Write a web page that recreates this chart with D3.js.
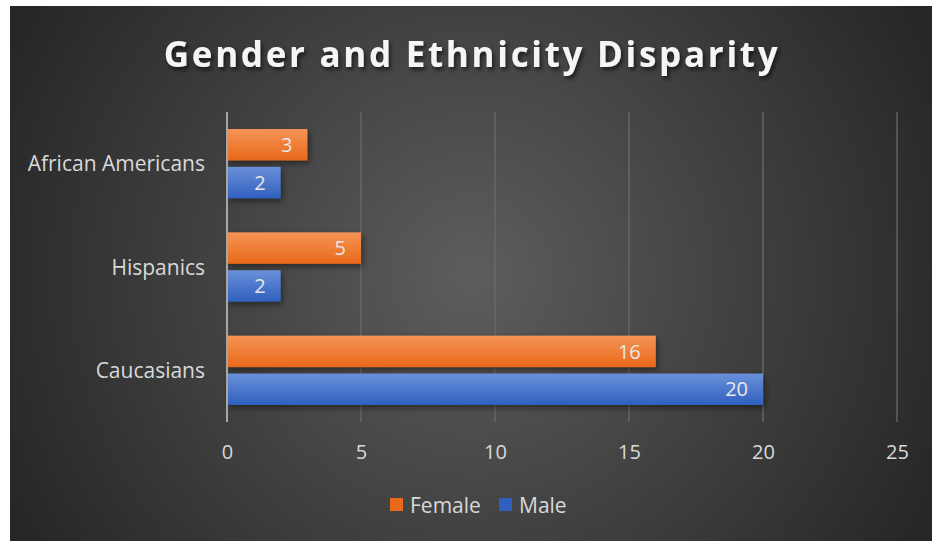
<!DOCTYPE html>
<html><head><meta charset="utf-8">
<script src="https://cdn.jsdelivr.net/npm/d3@7"></script>
<style>html,body{margin:0;padding:0;background:#fff;}svg{display:block;}</style>
</head><body>
<script>
const categories = ["African Americans", "Hispanics", "Caucasians"];
const seriesNames = ["Female", "Male"];
const femaleValues = [3, 5, 16];
const maleValues = [2, 2, 20];
const xTicks = [0, 5, 10, 15, 20, 25];
const title = "Gender and Ethnicity Disparity";

const W = 932, H = 541;
const FONT = "Open Sans, sans-serif";
const svg = d3.select("body").append("svg").attr("width", W).attr("height", H);
const defs = svg.append("defs");

const bg = defs.append("radialGradient").attr("id", "bg").attr("gradientUnits", "userSpaceOnUse")
  .attr("cx", 472).attr("cy", 275).attr("r", 520);
bg.append("stop").attr("offset", "0%").attr("stop-color", "#5d5d5d");
bg.append("stop").attr("offset", "100%").attr("stop-color", "#262626");

const colors = {Female: ["#f59456", "#e8691a"], Male: ["#6b90d9", "#2f60bf"]};
seriesNames.forEach(s => {
  const g = defs.append("linearGradient").attr("id", "g" + s).attr("x1", 0).attr("y1", 0).attr("x2", 0).attr("y2", 1);
  g.append("stop").attr("offset", "0%").attr("stop-color", colors[s][0]);
  g.append("stop").attr("offset", "100%").attr("stop-color", colors[s][1]);
});
const sh = defs.append("filter").attr("id", "sh").attr("x", "-10%").attr("y", "-30%").attr("width", "130%").attr("height", "180%");
sh.append("feDropShadow").attr("dx", 2).attr("dy", 3).attr("stdDeviation", 3).attr("flood-color", "#000").attr("flood-opacity", 0.45);
const tsh = defs.append("filter").attr("id", "tsh").attr("x", "-10%").attr("y", "-30%").attr("width", "120%").attr("height", "180%");
tsh.append("feDropShadow").attr("dx", 2).attr("dy", 3).attr("stdDeviation", 2).attr("flood-color", "#000").attr("flood-opacity", 0.6);

svg.append("rect").attr("x", 10).attr("y", 6).attr("width", W - 10).attr("height", H - 6).attr("fill", "url(#bg)");

const x = d3.scaleLinear().domain([0, 25]).range([227, 897]);
const y = d3.scaleBand().domain(categories).range([112, 422]);
const inner = d3.scaleBand().domain(seriesNames).range([17, y.bandwidth() - 17]).paddingInner(0.17);

// gridlines
svg.append("g").selectAll("line").data(xTicks.slice(1)).join("line")
  .attr("x1", d => x(d)).attr("x2", d => x(d)).attr("y1", 112).attr("y2", 422)
  .attr("stroke", "#6a6a6a").attr("stroke-width", 1.3);

const rows = categories.map((c, i) => ({c, Female: femaleValues[i], Male: maleValues[i]}));
const gBars = svg.append("g");
rows.forEach(r => {
  seriesNames.forEach(s => {
    gBars.append("rect")
      .attr("x", x(0)).attr("y", y(r.c) + inner(s))
      .attr("width", x(r[s]) - x(0)).attr("height", inner.bandwidth())
      .attr("fill", `url(#g${s})`).attr("filter", "url(#sh)");
    svg.append("text")
      .attr("x", x(r[s]) - 15).attr("y", y(r.c) + inner(s) + inner.bandwidth() / 2)
      .attr("dy", "0.36em").attr("text-anchor", "end")
      .attr("font-family", FONT).attr("font-size", 20)
      .attr("fill", "#e8e8e8").text(r[s]);
  });
});

// y axis line
svg.append("line").attr("x1", x(0)).attr("x2", x(0)).attr("y1", 112).attr("y2", 422)
  .attr("stroke", "#a6a6a6").attr("stroke-width", 2);

// x axis labels
const xa = svg.append("g").attr("transform", "translate(0,452)")
  .call(d3.axisBottom(x).tickValues(xTicks).tickSize(0).tickPadding(0));
xa.select(".domain").remove();
xa.selectAll("text").attr("font-family", FONT).attr("font-size", 20)
  .attr("fill", "#d9d9d9").attr("dy", "0.36em").attr("y", 0);

// y axis labels
const ya = svg.append("g").attr("transform", "translate(205,0)")
  .call(d3.axisLeft(y).tickSize(0).tickPadding(0));
ya.select(".domain").remove();
ya.selectAll("text").attr("font-family", FONT).attr("font-size", 21)
  .attr("fill", "#d9d9d9").attr("dy", "0.36em");

// title
svg.append("text").attr("x", 472).attr("y", 67).attr("text-anchor", "middle")
  .attr("font-family", FONT).attr("font-weight", "bold").attr("font-size", 35)
  .attr("letter-spacing", 2.7).attr("fill", "#f5f5f5").attr("filter", "url(#tsh)").text(title);

// legend
const legendX = [390, 499];
seriesNames.forEach((s, i) => {
  svg.append("rect").attr("x", legendX[i]).attr("y", 498).attr("width", 13).attr("height", 13)
    .attr("fill", colors[s][1]);
  svg.append("text").attr("x", legendX[i] + 20).attr("y", 505).attr("dy", "0.36em")
    .attr("font-family", FONT).attr("font-size", 21).attr("fill", "#d9d9d9").text(s);
});
</script>
</body></html>
